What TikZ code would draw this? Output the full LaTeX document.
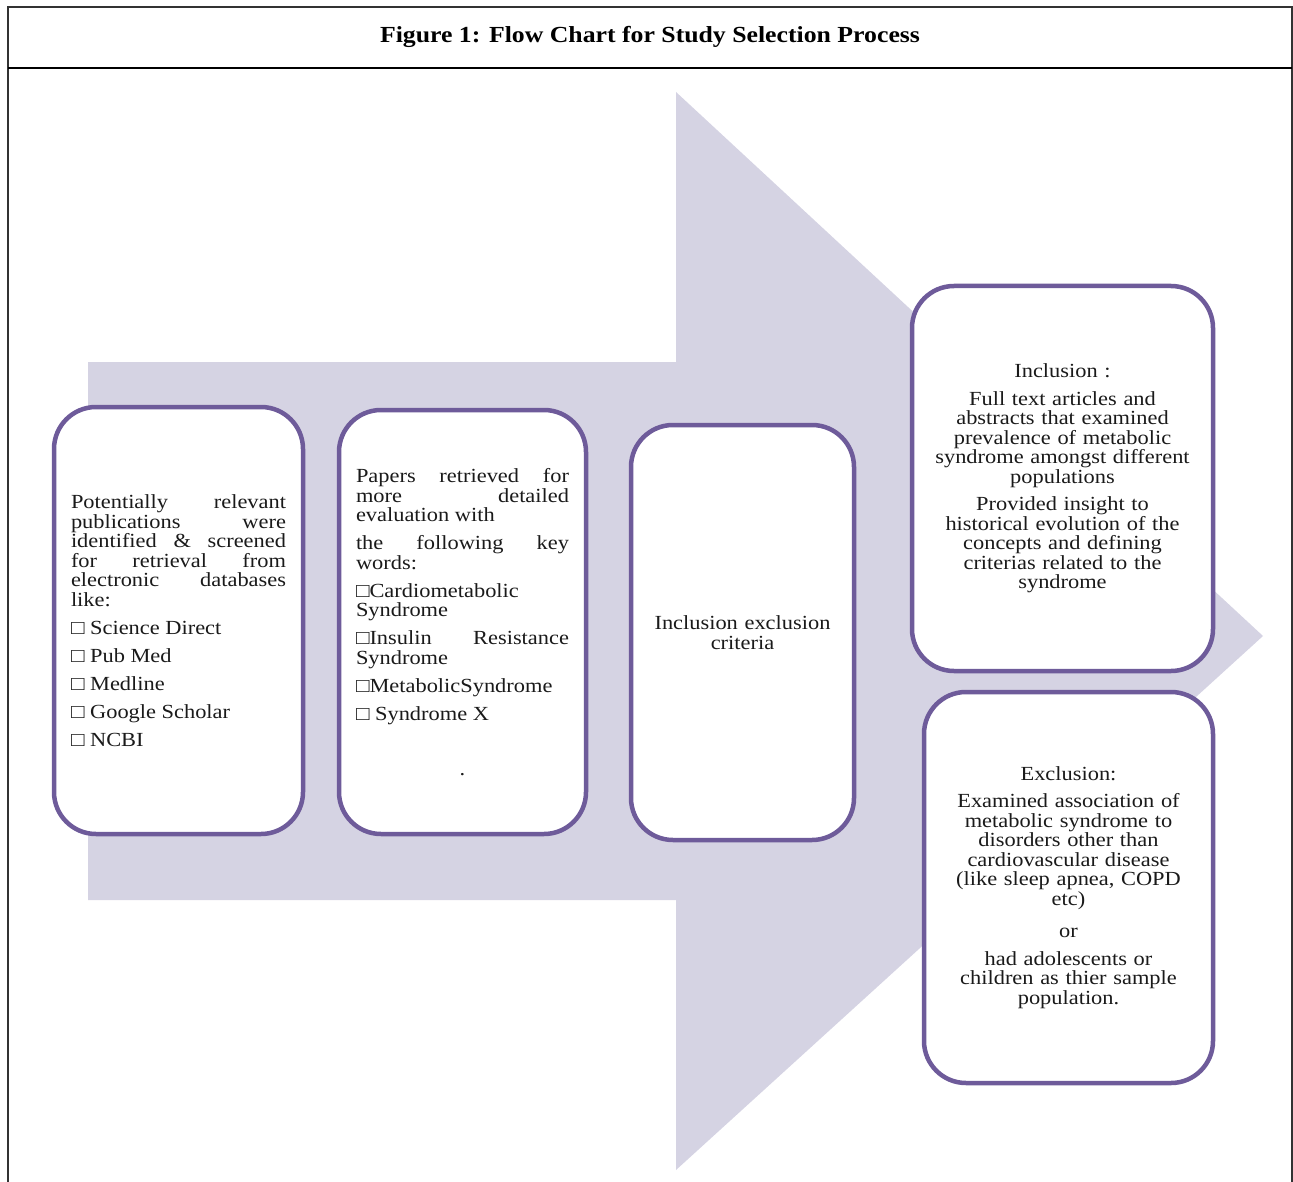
\documentclass[tikz,border=0pt]{standalone}
\usepackage{fontspec}
\setmainfont{Liberation Serif}[FakeStretch=1.12]
\hyphenpenalty=10000
\exhyphenpenalty=10000
\definecolor{lav}{HTML}{D5D3E3}
\definecolor{pur}{HTML}{6E5B9A}
\definecolor{ink}{HTML}{1A1A1A}
\begin{document}
\begin{tikzpicture}[x=1pt,y=-1pt,
  box/.style={draw=pur, line width=4.5pt, fill=white, rounded corners=42pt, inner sep=0pt, text=ink,
    font=\fontsize{20}{19.5}\selectfont},
  jbox/.style={box, align=justify},
  cbox/.style={box, align=center}]
\useasboundingbox (0,0) rectangle (1293,1182);
% frame
\draw[line width=1.2pt, black!80] (8,1182) -- (8,7) -- (1292,7) -- (1292,1182);
\draw[line width=2.6pt] (8,68) -- (1292,68);
\node[font=\bfseries\fontsize{23}{24}\selectfont, anchor=base] (title) at (650,43) {Figure 1: Flow Chart for Study Selection Process};
% big arrow
\fill[lav] (88,362) -- (676,362) -- (676,92) -- (1263,636) -- (676,1170) -- (676,900) -- (88,900) -- cycle;
% boxes
\node[jbox, minimum width=249pt, minimum height=427pt, text width=215pt] (b1) at (178.5,620.5)
 {\setlength{\parskip}{8.5pt}Potentially relevant\linebreak publications were\linebreak identified \& screened\linebreak for retrieval from\linebreak electronic databases\linebreak like:\par
 □ Science Direct\par □ Pub Med\par □ Medline\par □ Google Scholar\par □ NCBI};
\node[jbox, minimum width=247pt, minimum height=424pt, text width=213pt] (b2) at (462.5,622)
 {\setlength{\parskip}{8.5pt}Papers retrieved for\linebreak more detailed\linebreak evaluation with\par
 the following key\linebreak words:\par
 □Cardiometabolic\\Syndrome\par
 □Insulin Resistance\linebreak Syndrome\par
 □MetabolicSyndrome\par
 □ Syndrome X\par
 \vspace{27pt}\makebox[\linewidth][c]{.}};
\node[cbox, minimum width=223pt, minimum height=415pt, text width=200pt] (b3) at (742.5,632.5)
 {Inclusion exclusion\\criteria};
\node[cbox, minimum width=301pt, minimum height=385pt, text width=290pt] (b4) at (1062.5,478.5)
 {\setlength{\parskip}{8pt}Inclusion :\par
 Full text articles and\\abstracts that examined\\prevalence of metabolic\\syndrome amongst different\\populations\par
 Provided insight to\\historical evolution of the\\concepts and defining\\criterias related to the\\syndrome};
\node[cbox, minimum width=289pt, minimum height=391pt, text width=280pt] (b5) at (1068.5,887.5)
 {\setlength{\parskip}{8pt}Exclusion:\par
 Examined association of\\metabolic syndrome to\\disorders other than\\cardiovascular disease\\(like sleep apnea, COPD\\etc)\par
 \vspace{5pt}or\par
 had adolescents or\\children as thier sample\\population.};
\end{tikzpicture}
\end{document}
